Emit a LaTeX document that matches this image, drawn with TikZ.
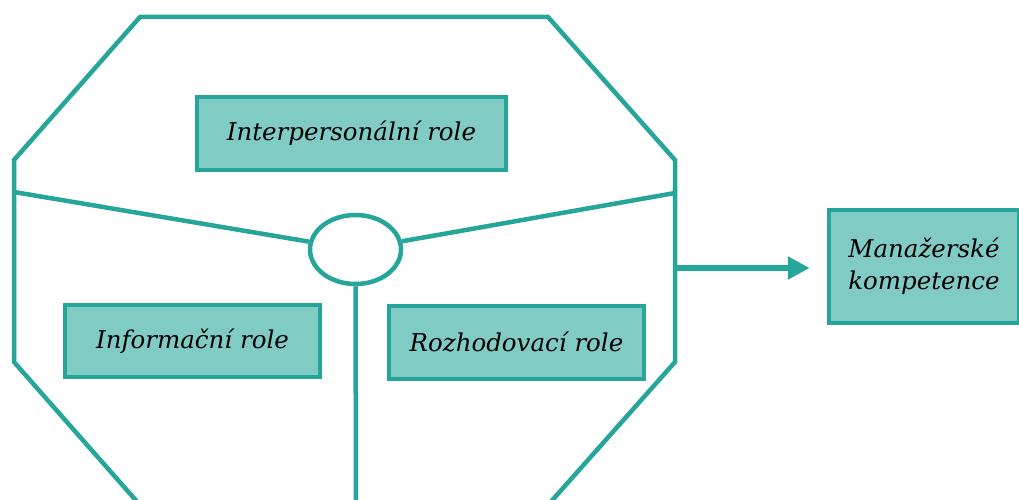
\documentclass[tikz,border=0pt]{standalone}
\usepackage{fontspec}
\setmainfont{DejaVu Serif}
\usetikzlibrary{positioning, arrows.meta, shapes.geometric}
\definecolor{RoleTeal}{HTML}{26A69A}
\definecolor{RoleFill}{HTML}{80CBC4}

\begin{document}
\begin{tikzpicture}[
    x=1pt, y=-1pt,
    rolebox/.style={rectangle, draw=RoleTeal, fill=RoleFill, line width=4.5pt,
                    inner sep=0pt, align=center, font=\fontsize{24.5}{32}\selectfont\itshape},
    hub/.style={ellipse, draw=RoleTeal, line width=4.5pt, inner sep=0pt,
                minimum width=91pt, minimum height=69pt},
    spoke/.style={draw=RoleTeal, line width=4.5pt},
    outarrow/.style={-{Triangle[length=22pt, width=22pt]}, draw=RoleTeal, fill=RoleTeal, line width=5.5pt}
]
  \path[use as bounding box, clip] (0,0) rectangle (1019,500);

  % Octagon frame
  \draw[spoke, line join=miter] (140,17) -- (548,17) -- (675,160) -- (675,362)
    -- (548,505) -- (140,505) -- (14,362) -- (14,160) -- cycle;

  % Centre and spokes
  \node[hub] (hub) at (355.5,249.5) {};
  \coordinate (lspoke) at (14,192);
  \coordinate (rspoke) at (675,193);
  \coordinate (bspoke) at (356,505);
  \draw[spoke] (lspoke) -- (hub);
  \draw[spoke] (rspoke) -- (hub);
  \draw[spoke] (hub.south) -- (bspoke);

  % Roles
  \node[rolebox, minimum width=309pt, minimum height=73pt] (inter) at (351.5,133.5) {Interpersonální role};
  \node[rolebox, minimum width=255pt, minimum height=72pt] (info) at (192.5,341) {Informační role};
  \node[rolebox, minimum width=255pt, minimum height=73pt] (rozh) at (516.5,342.5) {Rozhodovací role};

  % Output
  \node[rolebox, minimum width=190pt, minimum height=113pt] (komp) at (924,266.5) {Manažerské\\kompetence};
  \coordinate (exit) at (675,268);
  \draw[outarrow, shorten >=17pt] (exit) -- (exit -| komp.west);
\end{tikzpicture}
\end{document}
